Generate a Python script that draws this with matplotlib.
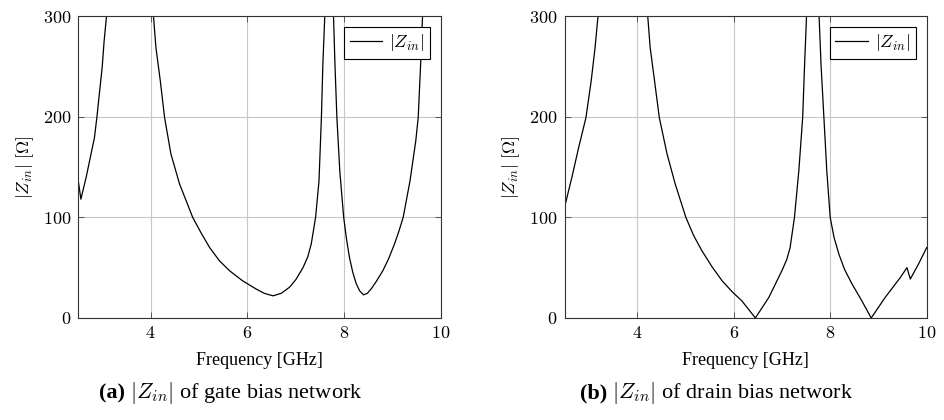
import numpy as np
import matplotlib
matplotlib.use('Agg')
import matplotlib.pyplot as plt
from matplotlib.ticker import FuncFormatter

plt.rcParams['font.family'] = ['Liberation Serif', 'DejaVu Serif']
plt.rcParams['mathtext.fontset'] = 'cm'

# (a) gate bias network, branches split by nan (they leave the plot at the top)
gate_f = [2.5, 2.51, 2.56, 2.61, 2.67, 2.77, 2.84, 2.89, 2.94, 3.0, 3.04, 3.09, np.nan,
          4.06, 4.11, 4.20, 4.29, 4.42, 4.60, 4.87, 5.05, 5.22, 5.42, 5.63, 5.90, 6.18,
          6.35, 6.53, 6.70, 6.87, 7.0, 7.15, 7.25, 7.32, 7.41, 7.48, 7.53, 7.56, 7.60, np.nan,
          7.78, 7.81, 7.85, 7.91, 7.99, 8.05, 8.11, 8.18, 8.25, 8.32, 8.40, 8.48, 8.56,
          8.66, 8.80, 8.92, 9.04, 9.13, 9.22, 9.36, 9.48, 9.53, 9.58, 9.62]
gate_z = [136, 135, 118, 128, 140, 163, 179, 199, 222, 249, 275, 300, np.nan,
          300, 269, 236, 199, 163, 133, 100, 84, 70, 57, 47, 37, 28.8,
          24.5, 22, 24.5, 30.5, 38, 50, 61, 73.5, 100, 136, 199, 252, 300, np.nan,
          300, 252, 199, 146, 100, 78, 60, 45, 34, 27, 23, 24.5, 29,
          36, 47, 59, 73.5, 86, 100, 136, 176, 199, 252, 300]

# (b) drain bias network
drain_f = [2.5, 2.65, 2.79, 2.94, 3.05, 3.13, 3.19, np.nan,
           4.22, 4.27, 4.36, 4.46, 4.62, 4.79, 5.01, 5.17, 5.34, 5.55, 5.76, 5.97,
           6.17, 6.45, 6.73, 7.00, 7.10, 7.17, 7.26, 7.35, 7.43, 7.47, 7.51, np.nan,
           7.77, 7.81, 7.87, 7.93, 8.00, 8.08, 8.18, 8.30, 8.45, 8.65, 8.85, 9.14,
           9.45, 9.59, 9.66, 9.83, 10.0]
drain_z = [110.5, 140, 169.5, 199, 236, 269, 300, np.nan,
           300, 269, 236, 199, 163, 133, 100, 82, 67, 51, 37, 26,
           17, 0, 20.5, 47, 58, 70, 100, 146, 199, 252, 300, np.nan,
           300, 252, 199, 146, 100, 80, 63.5, 48, 34, 17.5, 0, 20.5,
           40, 50, 38.7, 53.6, 70]

xticks = [4, 6, 8, 10]
yticks = [0, 100, 200, 300]
captions = [('(a)', 'gate'), ('(b)', 'drain')]

fig = plt.figure(figsize=(9.44, 4.2), dpi=100)
ax1 = fig.add_axes([0.0826, 0.2429, 0.3845, 0.719])
ax2 = fig.add_axes([0.5982, 0.2429, 0.3835, 0.719])

fmt = FuncFormatter(lambda v, p: f'${v:g}$')
fig.canvas.draw()
renderer = fig.canvas.get_renderer()

for ax, f, z, (tag, name) in [(ax1, gate_f, gate_z, captions[0]),
                              (ax2, drain_f, drain_z, captions[1])]:
    ax.plot(f, z, color='black', lw=0.9, label=r'$|Z_{in}|$')
    ax.set_xlim(2.5, 10)
    ax.set_ylim(0, 300)
    ax.set_xticks(xticks)
    ax.set_yticks(yticks)
    ax.xaxis.set_major_formatter(fmt)
    ax.yaxis.set_major_formatter(fmt)
    ax.tick_params(direction='in', top=True, right=True, length=4, width=0.6,
                   labelsize=13, color='#444444', pad=5)
    ax.grid(True, color='#c8c8c8', lw=0.8)
    ax.set_axisbelow(True)
    for s in ax.spines.values():
        s.set_linewidth(0.8)
        s.set_color('#333333')
    ax.set_xlabel('Frequency [GHz]', fontsize=13, labelpad=7)
    ax.set_ylabel(r'$|Z_{in}|\ [\Omega]$', fontsize=13, labelpad=5)
    leg = ax.legend(loc='upper right', fontsize=13, frameon=True, fancybox=False,
                    framealpha=1, edgecolor='black', handlelength=1.8,
                    borderpad=0.3, handletextpad=0.4, borderaxespad=0.6)
    leg.get_frame().set_linewidth(0.8)

    # caption: bold tag followed by normal text, centred a bit left of the axes
    bb = ax.get_position()
    xc = (bb.x0 + bb.x1) / 2 - 29 / 944
    t1 = fig.text(0, 0.064, tag, weight='bold', fontsize=16, va='center')
    t2 = fig.text(0, 0.064, r' $|Z_{in}|$ of ' + name + ' bias network', fontsize=16, va='center')
    w1 = t1.get_window_extent(renderer).width / 944
    w2 = t2.get_window_extent(renderer).width / 944
    x0 = xc - (w1 + w2) / 2
    t1.set_x(x0)
    t2.set_x(x0 + w1)

fig.savefig('out.png', dpi=100)
